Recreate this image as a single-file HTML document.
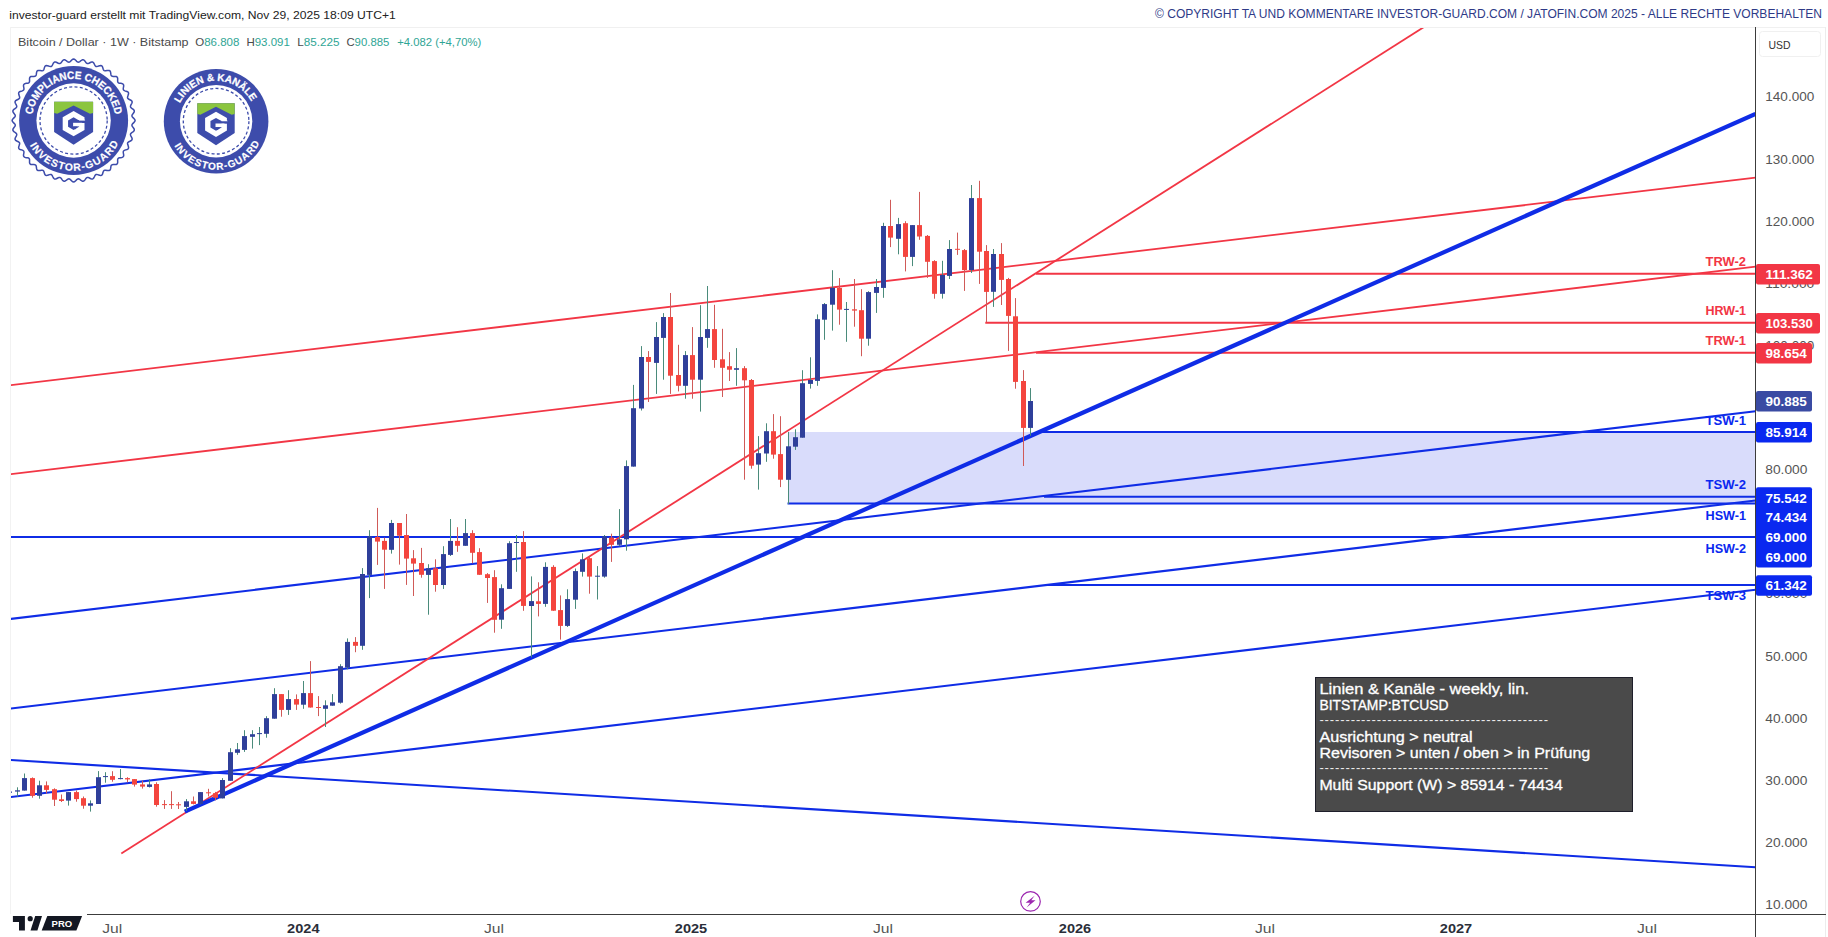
<!DOCTYPE html>
<html lang="de"><head><meta charset="utf-8"><title>Bitcoin / Dollar 1W</title>
<style>html,body{margin:0;padding:0;background:#fff;overflow:hidden}svg{display:block}text{white-space:pre}</style></head>
<body>
<svg width="1828" height="937" viewBox="0 0 1828 937" font-family='"Liberation Sans", sans-serif'>
<rect width="1828" height="937" fill="#fff"/>
<rect x="10" y="27" width="1816" height="1" fill="#f0f0f0"/>
<rect x="10" y="27" width="1" height="887" fill="#f2f2f2"/>
<rect x="1825" y="27" width="1" height="910" fill="#ececec"/>
<defs><clipPath id="cp"><rect x="11" y="28" width="1744.5" height="886"/></clipPath></defs>
<g clip-path="url(#cp)">
<rect x="788.5" y="432" width="967" height="71.5" fill="#d9dcfb"/>
<line x1="10.5" y1="618.9" x2="1755.5" y2="411.3" stroke="#0f2ce6" stroke-width="2.1"/>
<line x1="10.5" y1="708.5" x2="1755.5" y2="500.5" stroke="#0f2ce6" stroke-width="2.1"/>
<line x1="10.5" y1="797" x2="1755.5" y2="589.7" stroke="#0f2ce6" stroke-width="2.1"/>
<line x1="10.5" y1="760" x2="1755.5" y2="867.2" stroke="#0f2ce6" stroke-width="2.1"/>
<line x1="10.5" y1="537" x2="1755.5" y2="537" stroke="#0f2ce6" stroke-width="2"/>
<line x1="1042" y1="432.1" x2="1755.5" y2="432.1" stroke="#0f2ce6" stroke-width="2"/>
<line x1="1044" y1="496.8" x2="1755.5" y2="496.8" stroke="#0f2ce6" stroke-width="2"/>
<line x1="787.5" y1="503.6" x2="1755.5" y2="503.6" stroke="#0f2ce6" stroke-width="2"/>
<line x1="1046" y1="585" x2="1755.5" y2="585" stroke="#0f2ce6" stroke-width="2"/>
<line x1="10.5" y1="385.1" x2="1755.5" y2="177.7" stroke="#f23645" stroke-width="1.8"/>
<line x1="10.5" y1="474.2" x2="1755.5" y2="266.7" stroke="#f23645" stroke-width="1.8"/>
<line x1="121.3" y1="853.4" x2="1424" y2="27" stroke="#f23645" stroke-width="1.8"/>
<line x1="1036" y1="273.8" x2="1755.5" y2="273.8" stroke="#f23645" stroke-width="2"/>
<line x1="985.3" y1="322.8" x2="1755.5" y2="322.8" stroke="#f23645" stroke-width="2"/>
<line x1="1036" y1="352.75" x2="1755.5" y2="352.75" stroke="#f23645" stroke-width="2"/>
<line x1="184.8" y1="811.6" x2="1755.5" y2="113.8" stroke="#0f2ce6" stroke-width="4.2"/>
<rect x="9.0" y="791.5" width="1" height="1.3" fill="#4a8b7b"/>
<rect x="7.0" y="791.5" width="5" height="1.3" fill="#2f3f9a"/>
<rect x="17.0" y="787.3" width="1" height="9.2" fill="#4a8b7b"/>
<rect x="15.0" y="790.3" width="5" height="1.3" fill="#2f3f9a"/>
<rect x="24.0" y="773.5" width="1" height="17.1" fill="#4a8b7b"/>
<rect x="22.0" y="778.1" width="5" height="12.5" fill="#2f3f9a"/>
<rect x="32.0" y="777.4" width="1" height="20.3" fill="#d05a58"/>
<rect x="30.0" y="778.1" width="5" height="17.7" fill="#f4453e"/>
<rect x="39.0" y="780.7" width="1" height="18.0" fill="#4a8b7b"/>
<rect x="37.0" y="785.3" width="5" height="10.5" fill="#2f3f9a"/>
<rect x="46.0" y="781.4" width="1" height="12.2" fill="#d05a58"/>
<rect x="44.0" y="785.3" width="5" height="4.6" fill="#f4453e"/>
<rect x="54.0" y="788.3" width="1" height="17.7" fill="#d05a58"/>
<rect x="52.0" y="789.2" width="5" height="10.5" fill="#f4453e"/>
<rect x="61.0" y="794.5" width="1" height="7.5" fill="#d05a58"/>
<rect x="59.0" y="799.3" width="5" height="1.7" fill="#f4453e"/>
<rect x="68.0" y="792.1" width="1" height="13.5" fill="#4a8b7b"/>
<rect x="66.0" y="792.1" width="5" height="8.5" fill="#2f3f9a"/>
<rect x="76.0" y="790.5" width="1" height="11.2" fill="#d05a58"/>
<rect x="74.0" y="792.1" width="5" height="7.0" fill="#f4453e"/>
<rect x="83.0" y="796.5" width="1" height="12.2" fill="#d05a58"/>
<rect x="81.0" y="798.2" width="5" height="7.5" fill="#f4453e"/>
<rect x="90.0" y="800.4" width="1" height="11.2" fill="#4a8b7b"/>
<rect x="88.0" y="803.3" width="5" height="2.4" fill="#2f3f9a"/>
<rect x="98.0" y="771.1" width="1" height="32.8" fill="#4a8b7b"/>
<rect x="96.0" y="777.2" width="5" height="26.8" fill="#2f3f9a"/>
<rect x="105.0" y="772.2" width="1" height="10.5" fill="#4a8b7b"/>
<rect x="103.0" y="776.1" width="5" height="1.0" fill="#2f3f9a"/>
<rect x="112.0" y="771.2" width="1" height="10.5" fill="#d05a58"/>
<rect x="110.0" y="776.1" width="5" height="3.7" fill="#f4453e"/>
<rect x="120.0" y="769.1" width="1" height="10.2" fill="#4a8b7b"/>
<rect x="118.0" y="778.1" width="5" height="1.0" fill="#2f3f9a"/>
<rect x="127.0" y="777.2" width="1" height="5.1" fill="#d05a58"/>
<rect x="125.0" y="778.1" width="5" height="1.3" fill="#f4453e"/>
<rect x="134.0" y="779.1" width="1" height="7.5" fill="#d05a58"/>
<rect x="132.0" y="779.1" width="5" height="5.5" fill="#f4453e"/>
<rect x="142.0" y="780.7" width="1" height="7.9" fill="#d05a58"/>
<rect x="140.0" y="784.4" width="5" height="2.2" fill="#f4453e"/>
<rect x="149.0" y="779.4" width="1" height="8.1" fill="#4a8b7b"/>
<rect x="147.0" y="784.4" width="5" height="2.5" fill="#2f3f9a"/>
<rect x="156.0" y="782.3" width="1" height="24.4" fill="#d05a58"/>
<rect x="154.0" y="784.0" width="5" height="21.0" fill="#f4453e"/>
<rect x="164.0" y="800.1" width="1" height="8.8" fill="#d05a58"/>
<rect x="162.0" y="804.1" width="5" height="1.0" fill="#f4453e"/>
<rect x="171.0" y="791.2" width="1" height="17.7" fill="#d05a58"/>
<rect x="169.0" y="804.1" width="5" height="1.0" fill="#f4453e"/>
<rect x="178.0" y="802.0" width="1" height="7.0" fill="#d05a58"/>
<rect x="176.0" y="804.3" width="5" height="1.0" fill="#f4453e"/>
<rect x="186.0" y="799.1" width="1" height="11.8" fill="#4a8b7b"/>
<rect x="184.0" y="801.3" width="5" height="5.6" fill="#2f3f9a"/>
<rect x="193.0" y="796.5" width="1" height="7.9" fill="#d05a58"/>
<rect x="191.0" y="801.3" width="5" height="2.6" fill="#f4453e"/>
<rect x="200.0" y="792.1" width="1" height="12.2" fill="#4a8b7b"/>
<rect x="198.0" y="792.1" width="5" height="11.8" fill="#2f3f9a"/>
<rect x="208.0" y="788.8" width="1" height="7.6" fill="#d05a58"/>
<rect x="206.0" y="792.3" width="5" height="1.0" fill="#f4453e"/>
<rect x="215.0" y="791.9" width="1" height="8.5" fill="#d05a58"/>
<rect x="213.0" y="793.2" width="5" height="4.6" fill="#f4453e"/>
<rect x="222.0" y="778.1" width="1" height="20.3" fill="#4a8b7b"/>
<rect x="220.0" y="780.0" width="5" height="18.4" fill="#2f3f9a"/>
<rect x="230.0" y="748.2" width="1" height="32.6" fill="#4a8b7b"/>
<rect x="228.0" y="752.2" width="5" height="28.6" fill="#2f3f9a"/>
<rect x="237.0" y="743.0" width="1" height="11.8" fill="#4a8b7b"/>
<rect x="235.0" y="749.3" width="5" height="3.5" fill="#2f3f9a"/>
<rect x="244.0" y="730.2" width="1" height="21.7" fill="#4a8b7b"/>
<rect x="242.0" y="736.1" width="5" height="13.8" fill="#2f3f9a"/>
<rect x="252.0" y="730.2" width="1" height="18.4" fill="#4a8b7b"/>
<rect x="250.0" y="734.2" width="5" height="2.6" fill="#2f3f9a"/>
<rect x="259.0" y="727.0" width="1" height="18.1" fill="#4a8b7b"/>
<rect x="257.0" y="733.1" width="5" height="1.0" fill="#2f3f9a"/>
<rect x="266.0" y="716.2" width="1" height="21.5" fill="#4a8b7b"/>
<rect x="264.0" y="718.2" width="5" height="15.6" fill="#2f3f9a"/>
<rect x="274.0" y="688.2" width="1" height="30.5" fill="#4a8b7b"/>
<rect x="272.0" y="694.1" width="5" height="24.6" fill="#2f3f9a"/>
<rect x="281.0" y="694.1" width="1" height="22.6" fill="#d05a58"/>
<rect x="279.0" y="694.1" width="5" height="15.8" fill="#f4453e"/>
<rect x="288.0" y="690.2" width="1" height="24.7" fill="#4a8b7b"/>
<rect x="286.0" y="699.1" width="5" height="10.8" fill="#2f3f9a"/>
<rect x="296.0" y="694.4" width="1" height="15.5" fill="#d05a58"/>
<rect x="294.0" y="699.1" width="5" height="5.5" fill="#f4453e"/>
<rect x="303.0" y="681.0" width="1" height="27.8" fill="#4a8b7b"/>
<rect x="301.0" y="693.1" width="5" height="11.6" fill="#2f3f9a"/>
<rect x="310.0" y="661.1" width="1" height="46.5" fill="#d05a58"/>
<rect x="308.0" y="693.1" width="5" height="14.4" fill="#f4453e"/>
<rect x="318.0" y="696.1" width="1" height="20.0" fill="#d05a58"/>
<rect x="316.0" y="707.0" width="5" height="1.0" fill="#f4453e"/>
<rect x="325.0" y="700.3" width="1" height="26.7" fill="#4a8b7b"/>
<rect x="323.0" y="705.3" width="5" height="3.5" fill="#2f3f9a"/>
<rect x="332.0" y="694.1" width="1" height="11.6" fill="#4a8b7b"/>
<rect x="330.0" y="702.3" width="5" height="3.4" fill="#2f3f9a"/>
<rect x="340.0" y="664.2" width="1" height="39.4" fill="#4a8b7b"/>
<rect x="338.0" y="666.2" width="5" height="36.5" fill="#2f3f9a"/>
<rect x="347.0" y="638.4" width="1" height="30.9" fill="#4a8b7b"/>
<rect x="345.0" y="641.9" width="5" height="25.7" fill="#2f3f9a"/>
<rect x="355.0" y="637.1" width="1" height="15.1" fill="#d05a58"/>
<rect x="353.0" y="641.9" width="5" height="3.9" fill="#f4453e"/>
<rect x="362.0" y="568.1" width="1" height="81.7" fill="#4a8b7b"/>
<rect x="360.0" y="574.0" width="5" height="71.8" fill="#2f3f9a"/>
<rect x="369.0" y="530.2" width="1" height="67.9" fill="#4a8b7b"/>
<rect x="367.0" y="536.4" width="5" height="38.5" fill="#2f3f9a"/>
<rect x="377.0" y="507.9" width="1" height="57.0" fill="#d05a58"/>
<rect x="375.0" y="537.0" width="5" height="4.6" fill="#f4453e"/>
<rect x="384.0" y="537.7" width="1" height="51.2" fill="#d05a58"/>
<rect x="382.0" y="540.9" width="5" height="8.8" fill="#f4453e"/>
<rect x="391.0" y="519.9" width="1" height="33.7" fill="#4a8b7b"/>
<rect x="389.0" y="523.0" width="5" height="26.8" fill="#2f3f9a"/>
<rect x="399.0" y="523.0" width="1" height="41.6" fill="#d05a58"/>
<rect x="397.0" y="523.0" width="5" height="12.7" fill="#f4453e"/>
<rect x="406.0" y="514.0" width="1" height="70.9" fill="#d05a58"/>
<rect x="404.0" y="535.0" width="5" height="23.6" fill="#f4453e"/>
<rect x="413.0" y="550.1" width="1" height="45.9" fill="#d05a58"/>
<rect x="411.0" y="558.3" width="5" height="5.3" fill="#f4453e"/>
<rect x="421.0" y="547.9" width="1" height="29.8" fill="#d05a58"/>
<rect x="419.0" y="563.0" width="5" height="11.8" fill="#f4453e"/>
<rect x="428.0" y="564.2" width="1" height="50.5" fill="#4a8b7b"/>
<rect x="426.0" y="568.3" width="5" height="6.6" fill="#2f3f9a"/>
<rect x="435.0" y="559.3" width="1" height="32.4" fill="#d05a58"/>
<rect x="433.0" y="568.3" width="5" height="16.7" fill="#f4453e"/>
<rect x="443.0" y="546.2" width="1" height="42.7" fill="#4a8b7b"/>
<rect x="441.0" y="554.1" width="5" height="30.9" fill="#2f3f9a"/>
<rect x="450.0" y="519.0" width="1" height="37.0" fill="#4a8b7b"/>
<rect x="448.0" y="540.9" width="5" height="14.0" fill="#2f3f9a"/>
<rect x="457.0" y="527.2" width="1" height="24.6" fill="#d05a58"/>
<rect x="455.0" y="540.9" width="5" height="4.9" fill="#f4453e"/>
<rect x="465.0" y="519.0" width="1" height="26.8" fill="#4a8b7b"/>
<rect x="463.0" y="533.1" width="5" height="12.7" fill="#2f3f9a"/>
<rect x="472.0" y="530.2" width="1" height="33.1" fill="#d05a58"/>
<rect x="470.0" y="533.1" width="5" height="19.7" fill="#f4453e"/>
<rect x="479.0" y="548.2" width="1" height="26.7" fill="#d05a58"/>
<rect x="477.0" y="552.1" width="5" height="22.7" fill="#f4453e"/>
<rect x="487.0" y="573.1" width="1" height="29.8" fill="#d05a58"/>
<rect x="485.0" y="574.2" width="5" height="3.8" fill="#f4453e"/>
<rect x="494.0" y="570.2" width="1" height="62.5" fill="#d05a58"/>
<rect x="492.0" y="577.1" width="5" height="42.7" fill="#f4453e"/>
<rect x="501.0" y="584.3" width="1" height="44.5" fill="#4a8b7b"/>
<rect x="499.0" y="588.2" width="5" height="31.5" fill="#2f3f9a"/>
<rect x="509.0" y="541.2" width="1" height="47.7" fill="#4a8b7b"/>
<rect x="507.0" y="543.2" width="5" height="45.7" fill="#2f3f9a"/>
<rect x="516.0" y="535.0" width="1" height="36.8" fill="#4a8b7b"/>
<rect x="514.0" y="542.0" width="5" height="1.0" fill="#2f3f9a"/>
<rect x="523.0" y="531.1" width="1" height="79.7" fill="#d05a58"/>
<rect x="521.0" y="542.0" width="5" height="63.9" fill="#f4453e"/>
<rect x="531.0" y="576.4" width="1" height="81.0" fill="#4a8b7b"/>
<rect x="529.0" y="601.1" width="5" height="4.9" fill="#2f3f9a"/>
<rect x="538.0" y="582.3" width="1" height="34.1" fill="#d05a58"/>
<rect x="536.0" y="601.3" width="5" height="2.6" fill="#f4453e"/>
<rect x="545.0" y="562.3" width="1" height="44.5" fill="#4a8b7b"/>
<rect x="543.0" y="566.9" width="5" height="37.0" fill="#2f3f9a"/>
<rect x="553.0" y="565.2" width="1" height="45.6" fill="#d05a58"/>
<rect x="551.0" y="566.9" width="5" height="43.8" fill="#f4453e"/>
<rect x="560.0" y="595.4" width="1" height="44.2" fill="#d05a58"/>
<rect x="558.0" y="610.1" width="5" height="15.8" fill="#f4453e"/>
<rect x="567.0" y="589.3" width="1" height="37.7" fill="#4a8b7b"/>
<rect x="565.0" y="599.1" width="5" height="26.8" fill="#2f3f9a"/>
<rect x="575.0" y="568.5" width="1" height="40.4" fill="#4a8b7b"/>
<rect x="573.0" y="571.1" width="5" height="28.6" fill="#2f3f9a"/>
<rect x="582.0" y="553.4" width="1" height="23.2" fill="#4a8b7b"/>
<rect x="580.0" y="559.3" width="5" height="12.5" fill="#2f3f9a"/>
<rect x="589.0" y="556.6" width="1" height="37.1" fill="#d05a58"/>
<rect x="587.0" y="558.2" width="5" height="18.4" fill="#f4453e"/>
<rect x="597.0" y="566.1" width="1" height="33.4" fill="#4a8b7b"/>
<rect x="595.0" y="575.7" width="5" height="1.0" fill="#2f3f9a"/>
<rect x="604.0" y="535.0" width="1" height="42.7" fill="#4a8b7b"/>
<rect x="602.0" y="536.3" width="5" height="40.3" fill="#2f3f9a"/>
<rect x="611.0" y="533.7" width="1" height="28.2" fill="#d05a58"/>
<rect x="609.0" y="537.6" width="5" height="7.2" fill="#f4453e"/>
<rect x="619.0" y="509.1" width="1" height="37.0" fill="#4a8b7b"/>
<rect x="617.0" y="539.3" width="5" height="5.5" fill="#2f3f9a"/>
<rect x="626.0" y="460.4" width="1" height="90.3" fill="#4a8b7b"/>
<rect x="624.0" y="466.1" width="5" height="73.2" fill="#2f3f9a"/>
<rect x="633.0" y="384.9" width="1" height="81.7" fill="#4a8b7b"/>
<rect x="631.0" y="408.2" width="5" height="58.4" fill="#2f3f9a"/>
<rect x="641.0" y="346.1" width="1" height="64.4" fill="#4a8b7b"/>
<rect x="639.0" y="357.0" width="5" height="51.5" fill="#2f3f9a"/>
<rect x="648.0" y="351.1" width="1" height="50.9" fill="#d05a58"/>
<rect x="646.0" y="357.0" width="5" height="4.9" fill="#f4453e"/>
<rect x="656.0" y="322.1" width="1" height="71.8" fill="#4a8b7b"/>
<rect x="654.0" y="337.0" width="5" height="25.9" fill="#2f3f9a"/>
<rect x="663.0" y="313.1" width="1" height="66.6" fill="#4a8b7b"/>
<rect x="661.0" y="317.0" width="5" height="20.9" fill="#2f3f9a"/>
<rect x="670.0" y="293.0" width="1" height="100.9" fill="#d05a58"/>
<rect x="668.0" y="317.0" width="5" height="58.7" fill="#f4453e"/>
<rect x="678.0" y="344.8" width="1" height="46.6" fill="#d05a58"/>
<rect x="676.0" y="375.0" width="5" height="10.8" fill="#f4453e"/>
<rect x="685.0" y="351.1" width="1" height="47.6" fill="#4a8b7b"/>
<rect x="683.0" y="355.1" width="5" height="30.7" fill="#2f3f9a"/>
<rect x="692.0" y="327.1" width="1" height="71.6" fill="#d05a58"/>
<rect x="690.0" y="355.1" width="5" height="24.6" fill="#f4453e"/>
<rect x="700.0" y="305.2" width="1" height="106.4" fill="#4a8b7b"/>
<rect x="698.0" y="337.0" width="5" height="42.7" fill="#2f3f9a"/>
<rect x="707.0" y="286.0" width="1" height="61.8" fill="#4a8b7b"/>
<rect x="705.0" y="329.1" width="5" height="8.8" fill="#2f3f9a"/>
<rect x="714.0" y="304.8" width="1" height="63.0" fill="#d05a58"/>
<rect x="712.0" y="329.1" width="5" height="30.9" fill="#f4453e"/>
<rect x="722.0" y="328.8" width="1" height="68.2" fill="#d05a58"/>
<rect x="720.0" y="359.3" width="5" height="8.5" fill="#f4453e"/>
<rect x="729.0" y="352.1" width="1" height="28.9" fill="#d05a58"/>
<rect x="727.0" y="366.2" width="5" height="3.5" fill="#f4453e"/>
<rect x="736.0" y="348.1" width="1" height="37.7" fill="#4a8b7b"/>
<rect x="734.0" y="368.2" width="5" height="1.6" fill="#2f3f9a"/>
<rect x="744.0" y="366.1" width="1" height="113.6" fill="#d05a58"/>
<rect x="742.0" y="368.2" width="5" height="12.1" fill="#f4453e"/>
<rect x="751.0" y="379.0" width="1" height="89.7" fill="#d05a58"/>
<rect x="749.0" y="380.0" width="5" height="85.7" fill="#f4453e"/>
<rect x="758.0" y="436.1" width="1" height="53.5" fill="#4a8b7b"/>
<rect x="756.0" y="453.2" width="5" height="11.4" fill="#2f3f9a"/>
<rect x="766.0" y="423.3" width="1" height="38.5" fill="#4a8b7b"/>
<rect x="764.0" y="431.2" width="5" height="22.3" fill="#2f3f9a"/>
<rect x="773.0" y="414.1" width="1" height="44.6" fill="#d05a58"/>
<rect x="771.0" y="431.2" width="5" height="23.4" fill="#f4453e"/>
<rect x="780.0" y="416.2" width="1" height="70.9" fill="#d05a58"/>
<rect x="778.0" y="454.1" width="5" height="25.6" fill="#f4453e"/>
<rect x="788.0" y="431.9" width="1" height="72.2" fill="#4a8b7b"/>
<rect x="786.0" y="446.3" width="5" height="33.5" fill="#2f3f9a"/>
<rect x="795.0" y="429.3" width="1" height="20.6" fill="#4a8b7b"/>
<rect x="793.0" y="437.2" width="5" height="9.5" fill="#2f3f9a"/>
<rect x="802.0" y="370.2" width="1" height="67.5" fill="#4a8b7b"/>
<rect x="800.0" y="383.2" width="5" height="54.5" fill="#2f3f9a"/>
<rect x="810.0" y="357.3" width="1" height="31.3" fill="#4a8b7b"/>
<rect x="808.0" y="380.0" width="5" height="3.9" fill="#2f3f9a"/>
<rect x="817.0" y="314.4" width="1" height="71.4" fill="#4a8b7b"/>
<rect x="815.0" y="319.2" width="5" height="61.7" fill="#2f3f9a"/>
<rect x="824.0" y="303.0" width="1" height="36.8" fill="#4a8b7b"/>
<rect x="822.0" y="304.1" width="5" height="15.6" fill="#2f3f9a"/>
<rect x="832.0" y="270.2" width="1" height="60.4" fill="#4a8b7b"/>
<rect x="830.0" y="287.9" width="5" height="16.8" fill="#2f3f9a"/>
<rect x="839.0" y="278.1" width="1" height="46.6" fill="#d05a58"/>
<rect x="837.0" y="287.9" width="5" height="21.7" fill="#f4453e"/>
<rect x="846.0" y="302.0" width="1" height="39.8" fill="#4a8b7b"/>
<rect x="844.0" y="308.9" width="5" height="1.0" fill="#2f3f9a"/>
<rect x="854.0" y="279.0" width="1" height="47.7" fill="#d05a58"/>
<rect x="852.0" y="309.3" width="5" height="1.3" fill="#f4453e"/>
<rect x="861.0" y="289.2" width="1" height="67.0" fill="#d05a58"/>
<rect x="859.0" y="310.2" width="5" height="28.5" fill="#f4453e"/>
<rect x="868.0" y="291.2" width="1" height="54.5" fill="#4a8b7b"/>
<rect x="866.0" y="292.1" width="5" height="46.6" fill="#2f3f9a"/>
<rect x="876.0" y="279.0" width="1" height="33.9" fill="#4a8b7b"/>
<rect x="874.0" y="287.0" width="5" height="5.9" fill="#2f3f9a"/>
<rect x="883.0" y="222.8" width="1" height="75.0" fill="#4a8b7b"/>
<rect x="881.0" y="226.0" width="5" height="61.9" fill="#2f3f9a"/>
<rect x="890.0" y="199.8" width="1" height="47.3" fill="#d05a58"/>
<rect x="888.0" y="226.0" width="5" height="11.6" fill="#f4453e"/>
<rect x="898.0" y="217.9" width="1" height="36.4" fill="#4a8b7b"/>
<rect x="896.0" y="224.1" width="5" height="14.7" fill="#2f3f9a"/>
<rect x="905.0" y="221.2" width="1" height="50.2" fill="#d05a58"/>
<rect x="903.0" y="223.2" width="5" height="33.7" fill="#f4453e"/>
<rect x="912.0" y="225.1" width="1" height="41.0" fill="#4a8b7b"/>
<rect x="910.0" y="225.1" width="5" height="31.8" fill="#2f3f9a"/>
<rect x="919.0" y="191.9" width="1" height="47.9" fill="#d05a58"/>
<rect x="917.0" y="225.1" width="5" height="11.4" fill="#f4453e"/>
<rect x="927.0" y="235.0" width="1" height="42.9" fill="#d05a58"/>
<rect x="925.0" y="235.9" width="5" height="25.9" fill="#f4453e"/>
<rect x="934.0" y="260.2" width="1" height="38.5" fill="#d05a58"/>
<rect x="932.0" y="261.1" width="5" height="32.7" fill="#f4453e"/>
<rect x="942.0" y="260.8" width="1" height="37.8" fill="#4a8b7b"/>
<rect x="940.0" y="275.0" width="5" height="18.8" fill="#2f3f9a"/>
<rect x="949.0" y="240.1" width="1" height="38.9" fill="#4a8b7b"/>
<rect x="947.0" y="249.0" width="5" height="26.9" fill="#2f3f9a"/>
<rect x="957.0" y="232.6" width="1" height="22.3" fill="#d05a58"/>
<rect x="955.0" y="248.8" width="5" height="1.0" fill="#f4453e"/>
<rect x="964.0" y="249.0" width="1" height="41.9" fill="#d05a58"/>
<rect x="962.0" y="250.1" width="5" height="20.0" fill="#f4453e"/>
<rect x="971.0" y="185.0" width="1" height="88.0" fill="#4a8b7b"/>
<rect x="969.0" y="198.1" width="5" height="71.9" fill="#2f3f9a"/>
<rect x="979.0" y="180.8" width="1" height="103.1" fill="#d05a58"/>
<rect x="977.0" y="198.1" width="5" height="53.6" fill="#f4453e"/>
<rect x="986.0" y="245.1" width="1" height="77.0" fill="#d05a58"/>
<rect x="984.0" y="251.0" width="5" height="40.9" fill="#f4453e"/>
<rect x="993.0" y="249.0" width="1" height="57.9" fill="#4a8b7b"/>
<rect x="991.0" y="254.0" width="5" height="37.8" fill="#2f3f9a"/>
<rect x="1001.0" y="243.1" width="1" height="61.9" fill="#d05a58"/>
<rect x="999.0" y="254.0" width="5" height="25.9" fill="#f4453e"/>
<rect x="1008.0" y="277.9" width="1" height="73.0" fill="#d05a58"/>
<rect x="1006.0" y="279.0" width="5" height="36.9" fill="#f4453e"/>
<rect x="1015.0" y="298.1" width="1" height="90.6" fill="#d05a58"/>
<rect x="1013.0" y="316.3" width="5" height="65.6" fill="#f4453e"/>
<rect x="1023.0" y="370.1" width="1" height="95.9" fill="#d05a58"/>
<rect x="1021.0" y="381.0" width="5" height="46.9" fill="#f4453e"/>
<rect x="1030.0" y="388.1" width="1" height="47.7" fill="#4a8b7b"/>
<rect x="1028.0" y="401.0" width="5" height="26.9" fill="#2f3f9a"/>
</g>
<text x="1746" y="266.4" font-size="12.5" fill="#f23645" font-weight="bold" text-anchor="end" textLength="40.5" lengthAdjust="spacingAndGlyphs">TRW-2</text>
<text x="1746" y="314.7" font-size="12.5" fill="#f23645" font-weight="bold" text-anchor="end" textLength="40.5" lengthAdjust="spacingAndGlyphs">HRW-1</text>
<text x="1746" y="345.4" font-size="12.5" fill="#f23645" font-weight="bold" text-anchor="end" textLength="40.5" lengthAdjust="spacingAndGlyphs">TRW-1</text>
<text x="1746" y="424.7" font-size="12.5" fill="#0a28f0" font-weight="bold" text-anchor="end" textLength="40.5" lengthAdjust="spacingAndGlyphs">TSW-1</text>
<text x="1746" y="488.6" font-size="12.5" fill="#0a28f0" font-weight="bold" text-anchor="end" textLength="40.5" lengthAdjust="spacingAndGlyphs">TSW-2</text>
<text x="1746" y="519.8" font-size="12.5" fill="#0a28f0" font-weight="bold" text-anchor="end" textLength="40.5" lengthAdjust="spacingAndGlyphs">HSW-1</text>
<text x="1746" y="552.5" font-size="12.5" fill="#0a28f0" font-weight="bold" text-anchor="end" textLength="40.5" lengthAdjust="spacingAndGlyphs">HSW-2</text>
<text x="1746" y="600.1" font-size="12.5" fill="#0a28f0" font-weight="bold" text-anchor="end" textLength="40.5" lengthAdjust="spacingAndGlyphs">TSW-3</text>
<rect x="1755" y="27" width="1" height="910" fill="#3c3c3c"/>
<rect x="87" y="914" width="1739" height="1" fill="#3c3c3c"/>
<text x="1765.3" y="909.0" font-size="12" fill="#555" font-weight="normal" text-anchor="start" textLength="42" lengthAdjust="spacingAndGlyphs">10.000</text>
<text x="1765.3" y="846.88" font-size="12" fill="#555" font-weight="normal" text-anchor="start" textLength="42" lengthAdjust="spacingAndGlyphs">20.000</text>
<text x="1765.3" y="784.76" font-size="12" fill="#555" font-weight="normal" text-anchor="start" textLength="42" lengthAdjust="spacingAndGlyphs">30.000</text>
<text x="1765.3" y="722.64" font-size="12" fill="#555" font-weight="normal" text-anchor="start" textLength="42" lengthAdjust="spacingAndGlyphs">40.000</text>
<text x="1765.3" y="660.52" font-size="12" fill="#555" font-weight="normal" text-anchor="start" textLength="42" lengthAdjust="spacingAndGlyphs">50.000</text>
<text x="1765.3" y="598.4000000000001" font-size="12" fill="#555" font-weight="normal" text-anchor="start" textLength="42" lengthAdjust="spacingAndGlyphs">60.000</text>
<text x="1765.3" y="474.15999999999997" font-size="12" fill="#555" font-weight="normal" text-anchor="start" textLength="42" lengthAdjust="spacingAndGlyphs">80.000</text>
<text x="1765.3" y="349.92" font-size="12" fill="#555" font-weight="normal" text-anchor="start" textLength="49" lengthAdjust="spacingAndGlyphs">100.000</text>
<text x="1765.3" y="287.8" font-size="12" fill="#555" font-weight="normal" text-anchor="start" textLength="49" lengthAdjust="spacingAndGlyphs">110.000</text>
<text x="1765.3" y="225.68" font-size="12" fill="#555" font-weight="normal" text-anchor="start" textLength="49" lengthAdjust="spacingAndGlyphs">120.000</text>
<text x="1765.3" y="163.56" font-size="12" fill="#555" font-weight="normal" text-anchor="start" textLength="49" lengthAdjust="spacingAndGlyphs">130.000</text>
<text x="1765.3" y="101.44000000000001" font-size="12" fill="#555" font-weight="normal" text-anchor="start" textLength="49" lengthAdjust="spacingAndGlyphs">140.000</text>
<rect x="1756" y="263.9" width="64" height="20.5" rx="2" fill="#f23645"/>
<text x="1765.4" y="278.59999999999997" font-size="12.3" fill="#fff" font-weight="bold" text-anchor="start" textLength="47.5" lengthAdjust="spacingAndGlyphs">111.362</text>
<rect x="1756" y="312.9" width="64" height="20.5" rx="2" fill="#f23645"/>
<text x="1765.4" y="327.59999999999997" font-size="12.3" fill="#fff" font-weight="bold" text-anchor="start" textLength="47.5" lengthAdjust="spacingAndGlyphs">103.530</text>
<rect x="1756" y="343.1" width="56" height="20.5" rx="2" fill="#f23645"/>
<text x="1765.4" y="357.79999999999995" font-size="12.3" fill="#fff" font-weight="bold" text-anchor="start" textLength="41.3" lengthAdjust="spacingAndGlyphs">98.654</text>
<rect x="1756" y="391.1" width="56" height="20.5" rx="2" fill="#3a4ba3"/>
<text x="1765.4" y="405.7" font-size="12.3" fill="#fff" font-weight="bold" text-anchor="start" textLength="41.3" lengthAdjust="spacingAndGlyphs">90.885</text>
<rect x="1756" y="422.1" width="56" height="20.5" rx="2" fill="#0a28f0"/>
<text x="1765.4" y="436.7" font-size="12.3" fill="#fff" font-weight="bold" text-anchor="start" textLength="41.3" lengthAdjust="spacingAndGlyphs">85.914</text>
<rect x="1756" y="487.2" width="56" height="80.2" rx="2" fill="#0a28f0"/>
<text x="1765.4" y="502.79999999999995" font-size="12.3" fill="#fff" font-weight="bold" text-anchor="start" textLength="41.3" lengthAdjust="spacingAndGlyphs">75.542</text>
<text x="1765.4" y="522.4" font-size="12.3" fill="#fff" font-weight="bold" text-anchor="start" textLength="41.3" lengthAdjust="spacingAndGlyphs">74.434</text>
<text x="1765.4" y="542.4" font-size="12.3" fill="#fff" font-weight="bold" text-anchor="start" textLength="41.3" lengthAdjust="spacingAndGlyphs">69.000</text>
<text x="1765.4" y="562.4" font-size="12.3" fill="#fff" font-weight="bold" text-anchor="start" textLength="41.3" lengthAdjust="spacingAndGlyphs">69.000</text>
<rect x="1756" y="575.2" width="56" height="20.5" rx="2" fill="#0a28f0"/>
<text x="1765.4" y="589.9" font-size="12.3" fill="#fff" font-weight="bold" text-anchor="start" textLength="41.3" lengthAdjust="spacingAndGlyphs">61.342</text>
<rect x="1759.5" y="31.5" width="61" height="25" rx="3" fill="#fff" stroke="#f0f0f0"/>
<text x="1768.5" y="48.8" font-size="11.5" fill="#333" font-weight="normal" text-anchor="start" textLength="22" lengthAdjust="spacingAndGlyphs">USD</text>
<text x="112.3" y="933.4" font-size="12" fill="#555" font-weight="normal" text-anchor="middle" textLength="20" lengthAdjust="spacingAndGlyphs">Jul</text>
<text x="303.3" y="933.4" font-size="12" fill="#2a2e39" font-weight="bold" text-anchor="middle" textLength="32.4" lengthAdjust="spacingAndGlyphs">2024</text>
<text x="494" y="933.4" font-size="12" fill="#555" font-weight="normal" text-anchor="middle" textLength="20" lengthAdjust="spacingAndGlyphs">Jul</text>
<text x="691" y="933.4" font-size="12" fill="#2a2e39" font-weight="bold" text-anchor="middle" textLength="32.4" lengthAdjust="spacingAndGlyphs">2025</text>
<text x="883" y="933.4" font-size="12" fill="#555" font-weight="normal" text-anchor="middle" textLength="20" lengthAdjust="spacingAndGlyphs">Jul</text>
<text x="1075" y="933.4" font-size="12" fill="#2a2e39" font-weight="bold" text-anchor="middle" textLength="32.4" lengthAdjust="spacingAndGlyphs">2026</text>
<text x="1265" y="933.4" font-size="12" fill="#555" font-weight="normal" text-anchor="middle" textLength="20" lengthAdjust="spacingAndGlyphs">Jul</text>
<text x="1456" y="933.4" font-size="12" fill="#2a2e39" font-weight="bold" text-anchor="middle" textLength="32.4" lengthAdjust="spacingAndGlyphs">2027</text>
<text x="1647" y="933.4" font-size="12" fill="#555" font-weight="normal" text-anchor="middle" textLength="20" lengthAdjust="spacingAndGlyphs">Jul</text>
<text x="9.3" y="18.5" font-size="11.5" fill="#222" font-weight="normal" text-anchor="start" textLength="386.5" lengthAdjust="spacingAndGlyphs">investor-guard erstellt mit TradingView.com, Nov 29, 2025 18:09 UTC+1</text>
<text x="1155" y="18" font-size="12.5" fill="#2e3a87" font-weight="normal" text-anchor="start" textLength="667" lengthAdjust="spacingAndGlyphs">© COPYRIGHT TA UND KOMMENTARE INVESTOR-GUARD.COM / JATOFIN.COM 2025 - ALLE RECHTE VORBEHALTEN</text>
<text x="18" y="45.5" font-size="11.5" fill="#4a4a4a" font-weight="normal" text-anchor="start" textLength="170.6" lengthAdjust="spacingAndGlyphs">Bitcoin / Dollar · 1W · Bitstamp</text>
<text x="195.2" y="45.5" font-size="11.5" textLength="44.2" lengthAdjust="spacingAndGlyphs"><tspan fill="#4a4a4a">O</tspan><tspan fill="#2fa595">86.808</tspan></text>
<text x="246.4" y="45.5" font-size="11.5" textLength="43.4" lengthAdjust="spacingAndGlyphs"><tspan fill="#4a4a4a">H</tspan><tspan fill="#2fa595">93.091</tspan></text>
<text x="297.2" y="45.5" font-size="11.5" textLength="42.4" lengthAdjust="spacingAndGlyphs"><tspan fill="#4a4a4a">L</tspan><tspan fill="#2fa595">85.225</tspan></text>
<text x="346.4" y="45.5" font-size="11.5" textLength="43" lengthAdjust="spacingAndGlyphs"><tspan fill="#4a4a4a">C</tspan><tspan fill="#2fa595">90.885</tspan></text>
<text x="397.2" y="45.5" font-size="11.5" fill="#2fa595" font-weight="normal" text-anchor="start" textLength="84.2" lengthAdjust="spacingAndGlyphs">+4.082 (+4,70%)</text>
<rect x="1315.5" y="677.5" width="317" height="134" fill="#4a4a4a" stroke="#1e1e2a" stroke-width="1"/>
<text x="1319.4" y="693.9" font-size="14" fill="#fff" font-weight="normal" text-anchor="start" textLength="209.6" lengthAdjust="spacingAndGlyphs" stroke="#fff" stroke-width="0.3">Linien &amp; Kanäle - weekly, lin.</text>
<text x="1319.4" y="709.9" font-size="14" fill="#fff" font-weight="normal" text-anchor="start" textLength="129.1" lengthAdjust="spacingAndGlyphs" stroke="#fff" stroke-width="0.3">BITSTAMP:BTCUSD</text>
<text x="1319.4" y="724.0" font-size="13" fill="#ececec" textLength="228.6" lengthAdjust="spacing">--------------------------------------------</text>
<text x="1319.4" y="741.6" font-size="14" fill="#fff" font-weight="normal" text-anchor="start" textLength="153.2" lengthAdjust="spacingAndGlyphs" stroke="#fff" stroke-width="0.3">Ausrichtung &gt; neutral</text>
<text x="1319.4" y="757.8" font-size="14" fill="#fff" font-weight="normal" text-anchor="start" textLength="270.9" lengthAdjust="spacingAndGlyphs" stroke="#fff" stroke-width="0.3">Revisoren &gt; unten / oben &gt; in Prüfung</text>
<text x="1319.4" y="772.1999999999999" font-size="13" fill="#ececec" textLength="228.6" lengthAdjust="spacing">--------------------------------------------</text>
<text x="1319.4" y="789.5" font-size="14" fill="#fff" font-weight="normal" text-anchor="start" textLength="243.3" lengthAdjust="spacingAndGlyphs" stroke="#fff" stroke-width="0.3">Multi Support (W) &gt; 85914 - 74434</text>
<circle cx="1030.5" cy="901.4" r="9.8" fill="#fff" stroke="#9c27b0" stroke-width="1.2"/>
<path d="M1034.6 895.8 L1025.6 902.8 L1030.1 902.8 L1026.6 907.4 L1035.5 900.3 L1031.3 900.3 Z" fill="#9c27b0"/>
<path d="M12.9 916.1H24.9V930.5H19V922H12.9Z" fill="#131722"/>
<circle cx="30.2" cy="918.7" r="2.6" fill="#131722"/>
<path d="M35.2 916.1H42L37.4 930.5H30.5Z" fill="#131722"/>
<path d="M47.3 916.1H82.1L76.4 930.5H41.7Z" fill="#131722"/>
<text x="51.6" y="926.9" font-size="9.5" fill="#fff" font-weight="bold" text-anchor="start" textLength="20.6" lengthAdjust="spacingAndGlyphs">PRO</text>
<polygon points="135.10,120.50 134.89,121.30 134.33,122.09 133.55,122.86 132.77,123.60 132.18,124.34 131.92,125.09 132.05,125.87 132.53,126.69 133.18,127.55 133.83,128.43 134.26,129.30 134.34,130.12 134.01,130.88 133.33,131.57 132.45,132.21 131.56,132.82 130.85,133.46 130.48,134.16 130.49,134.95 130.83,135.84 131.35,136.79 131.85,137.75 132.14,138.68 132.09,139.50 131.65,140.20 130.87,140.78 129.89,141.27 128.91,141.73 128.12,142.25 127.65,142.89 127.53,143.67 127.73,144.60 128.09,145.62 128.43,146.65 128.58,147.61 128.40,148.42 127.85,149.04 126.99,149.49 125.95,149.82 124.91,150.12 124.05,150.51 123.48,151.07 123.25,151.82 123.29,152.77 123.49,153.83 123.67,154.91 123.66,155.88 123.35,156.65 122.72,157.18 121.80,157.48 120.72,157.65 119.65,157.79 118.73,158.04 118.08,158.49 117.73,159.20 117.63,160.15 117.66,161.23 117.67,162.32 117.51,163.27 117.09,163.99 116.37,164.41 115.42,164.57 114.33,164.56 113.25,164.53 112.30,164.63 111.59,164.98 111.14,165.63 110.89,166.55 110.75,167.62 110.58,168.70 110.28,169.62 109.75,170.25 108.98,170.56 108.01,170.57 106.93,170.39 105.87,170.19 104.92,170.15 104.17,170.38 103.61,170.95 103.22,171.81 102.92,172.85 102.59,173.89 102.14,174.75 101.52,175.30 100.71,175.48 99.75,175.33 98.72,174.99 97.70,174.63 96.77,174.43 95.99,174.55 95.35,175.02 94.83,175.81 94.37,176.79 93.88,177.77 93.30,178.55 92.60,178.99 91.78,179.04 90.85,178.75 89.89,178.25 88.94,177.73 88.05,177.39 87.26,177.38 86.56,177.75 85.92,178.46 85.31,179.35 84.67,180.23 83.98,180.91 83.22,181.24 82.40,181.16 81.53,180.73 80.65,180.08 79.79,179.43 78.97,178.95 78.19,178.82 77.44,179.08 76.70,179.67 75.96,180.45 75.19,181.23 74.40,181.79 73.60,182.00 72.80,181.79 72.01,181.23 71.24,180.45 70.50,179.67 69.76,179.08 69.01,178.82 68.23,178.95 67.41,179.43 66.55,180.08 65.67,180.73 64.80,181.16 63.98,181.24 63.22,180.91 62.53,180.23 61.89,179.35 61.28,178.46 60.64,177.75 59.94,177.38 59.15,177.39 58.26,177.73 57.31,178.25 56.35,178.75 55.42,179.04 54.60,178.99 53.90,178.55 53.32,177.77 52.83,176.79 52.37,175.81 51.85,175.02 51.21,174.55 50.43,174.43 49.50,174.63 48.48,174.99 47.45,175.33 46.49,175.48 45.68,175.30 45.06,174.75 44.61,173.89 44.28,172.85 43.98,171.81 43.59,170.95 43.03,170.38 42.28,170.15 41.33,170.19 40.27,170.39 39.19,170.57 38.22,170.56 37.45,170.25 36.92,169.62 36.62,168.70 36.45,167.62 36.31,166.55 36.06,165.63 35.61,164.98 34.90,164.63 33.95,164.53 32.87,164.56 31.78,164.57 30.83,164.41 30.11,163.99 29.69,163.27 29.53,162.32 29.54,161.23 29.57,160.15 29.47,159.20 29.12,158.49 28.47,158.04 27.55,157.79 26.48,157.65 25.40,157.48 24.48,157.18 23.85,156.65 23.54,155.88 23.53,154.91 23.71,153.83 23.91,152.77 23.95,151.82 23.72,151.07 23.15,150.51 22.29,150.12 21.25,149.82 20.21,149.49 19.35,149.04 18.80,148.42 18.62,147.61 18.77,146.65 19.11,145.62 19.47,144.60 19.67,143.67 19.55,142.89 19.08,142.25 18.29,141.73 17.31,141.27 16.33,140.78 15.55,140.20 15.11,139.50 15.06,138.68 15.35,137.75 15.85,136.79 16.37,135.84 16.71,134.95 16.72,134.16 16.35,133.46 15.64,132.82 14.75,132.21 13.87,131.57 13.19,130.88 12.86,130.12 12.94,129.30 13.37,128.43 14.02,127.55 14.67,126.69 15.15,125.87 15.28,125.09 15.02,124.34 14.43,123.60 13.65,122.86 12.87,122.09 12.31,121.30 12.10,120.50 12.31,119.70 12.87,118.91 13.65,118.14 14.43,117.40 15.02,116.66 15.28,115.91 15.15,115.13 14.67,114.31 14.02,113.45 13.37,112.57 12.94,111.70 12.86,110.88 13.19,110.12 13.87,109.43 14.75,108.79 15.64,108.18 16.35,107.54 16.72,106.84 16.71,106.05 16.37,105.16 15.85,104.21 15.35,103.25 15.06,102.32 15.11,101.50 15.55,100.80 16.33,100.22 17.31,99.73 18.29,99.27 19.08,98.75 19.55,98.11 19.67,97.33 19.47,96.40 19.11,95.38 18.77,94.35 18.62,93.39 18.80,92.58 19.35,91.96 20.21,91.51 21.25,91.18 22.29,90.88 23.15,90.49 23.72,89.93 23.95,89.18 23.91,88.23 23.71,87.17 23.53,86.09 23.54,85.12 23.85,84.35 24.48,83.82 25.40,83.52 26.48,83.35 27.55,83.21 28.47,82.96 29.12,82.51 29.47,81.80 29.57,80.85 29.54,79.77 29.53,78.68 29.69,77.73 30.11,77.01 30.83,76.59 31.78,76.43 32.87,76.44 33.95,76.47 34.90,76.37 35.61,76.02 36.06,75.37 36.31,74.45 36.45,73.38 36.62,72.30 36.92,71.38 37.45,70.75 38.22,70.44 39.19,70.43 40.27,70.61 41.33,70.81 42.28,70.85 43.03,70.62 43.59,70.05 43.97,69.19 44.28,68.15 44.61,67.11 45.06,66.25 45.68,65.70 46.49,65.52 47.45,65.67 48.48,66.01 49.50,66.37 50.43,66.57 51.21,66.45 51.85,65.98 52.37,65.19 52.83,64.21 53.32,63.23 53.90,62.45 54.60,62.01 55.42,61.96 56.35,62.25 57.31,62.75 58.26,63.27 59.15,63.61 59.94,63.62 60.64,63.25 61.28,62.54 61.89,61.65 62.53,60.77 63.22,60.09 63.98,59.76 64.80,59.84 65.67,60.27 66.55,60.92 67.41,61.57 68.23,62.05 69.01,62.18 69.76,61.92 70.50,61.33 71.24,60.55 72.01,59.77 72.80,59.21 73.60,59.00 74.40,59.21 75.19,59.77 75.96,60.55 76.70,61.33 77.44,61.92 78.19,62.18 78.97,62.05 79.79,61.57 80.65,60.92 81.53,60.27 82.40,59.84 83.22,59.76 83.98,60.09 84.67,60.77 85.31,61.65 85.92,62.54 86.56,63.25 87.26,63.62 88.05,63.61 88.94,63.27 89.89,62.75 90.85,62.25 91.78,61.96 92.60,62.01 93.30,62.45 93.88,63.23 94.37,64.21 94.83,65.19 95.35,65.98 95.99,66.45 96.77,66.57 97.70,66.37 98.72,66.01 99.75,65.67 100.71,65.52 101.52,65.70 102.14,66.25 102.59,67.11 102.92,68.15 103.22,69.19 103.61,70.05 104.17,70.62 104.92,70.85 105.87,70.81 106.93,70.61 108.01,70.43 108.98,70.44 109.75,70.75 110.28,71.38 110.58,72.30 110.75,73.38 110.89,74.45 111.14,75.37 111.59,76.02 112.30,76.37 113.25,76.47 114.33,76.44 115.42,76.43 116.37,76.59 117.09,77.01 117.51,77.73 117.67,78.68 117.66,79.77 117.63,80.85 117.73,81.80 118.08,82.51 118.73,82.96 119.65,83.21 120.72,83.35 121.80,83.52 122.72,83.82 123.35,84.35 123.66,85.12 123.67,86.09 123.49,87.17 123.29,88.23 123.25,89.18 123.48,89.93 124.05,90.49 124.91,90.88 125.95,91.18 126.99,91.51 127.85,91.96 128.40,92.58 128.58,93.39 128.43,94.35 128.09,95.38 127.73,96.40 127.53,97.33 127.65,98.11 128.12,98.75 128.91,99.27 129.89,99.73 130.87,100.22 131.65,100.80 132.09,101.50 132.14,102.32 131.85,103.25 131.35,104.21 130.83,105.16 130.49,106.05 130.48,106.84 130.85,107.54 131.56,108.18 132.45,108.79 133.33,109.43 134.01,110.12 134.34,110.88 134.26,111.70 133.83,112.57 133.18,113.45 132.53,114.31 132.05,115.13 131.92,115.91 132.18,116.66 132.77,117.40 133.55,118.14 134.33,118.91 134.89,119.70 135.10,120.50" fill="#fff" stroke="#3d4cab" stroke-width="1.5"/>
<circle cx="73.6" cy="120.5" r="54.5" fill="#3d4cab"/>
<circle cx="73.6" cy="120.5" r="37.2" fill="#fff"/>
<circle cx="73.6" cy="120.5" r="33.6" fill="none" stroke="#3d4cab" stroke-width="1.3" stroke-dasharray="3 2.3"/>
<path d="M54.099999999999994 101.7H93.1V132.1L73.6 144.8L54.099999999999994 132.1Z" fill="#3d4cab"/>
<path d="M54.099999999999994 101.7H93.1V113.0L90.0 113.8L73.6 105.4L57.2 113.8L54.099999999999994 113.0Z" fill="#8bc53f"/>
<polygon points="73.60,111.00 84.51,117.30 84.51,129.90 73.60,136.20 62.69,129.90 62.69,117.30" fill="#fff"/>
<polygon points="73.60,117.20 79.14,120.40 79.14,126.80 73.60,130.00 68.06,126.80 68.06,120.40" fill="#3d4cab"/>
<path d="M75.6 120.19999999999999L85.1 120.19999999999999L85.1 123.0L75.6 123.0Z" fill="#3d4cab"/>
<path d="M79.1 116.6L85.1 120.0L85.1 120.6L79.1 120.6Z" fill="#fff"/>
<rect x="73.1" y="122.8" width="9" height="3.6" fill="#fff"/>
<path d="M73.1 126.39999999999999L77.6 126.39999999999999L75.1 129.6Z" fill="#3d4cab"/>
<path id="b1t" d="M32.40 114.71A41.6 41.6 0 0 1 114.80 114.71" fill="none"/>
<text font-size="10.8" font-weight="bold" fill="#fff" stroke="#fff" stroke-width="0.25"><textPath href="#b1t" startOffset="0" textLength="119.1" lengthAdjust="spacingAndGlyphs">COMPLIANCE CHECKED</textPath></text>
<path id="b1b" d="M29.82 145.27A50.3 50.3 0 0 0 118.42 143.34" fill="none"/>
<text font-size="10.4" font-weight="bold" fill="#fff" stroke="#fff" stroke-width="0.15"><textPath href="#b1b" startOffset="0" textLength="108.4" lengthAdjust="spacing">INVESTOR-GUARD</textPath></text>
<circle cx="216.1" cy="121.2" r="52.3" fill="#3d4cab"/>
<circle cx="216.1" cy="121.2" r="36.2" fill="#fff"/>
<circle cx="216.1" cy="121.2" r="32.8" fill="none" stroke="#3d4cab" stroke-width="1.3" stroke-dasharray="3 2.3"/>
<path d="M197.3 103.3H234.7V133L216 145.2L197.3 133Z" fill="#3d4cab"/>
<path d="M197.3 103.3H234.7V114.0L231.7 114.8L216 106.7L200.3 114.8L197.3 114.0Z" fill="#8bc53f"/>
<polygon points="216.00,111.70 226.91,118.00 226.91,130.60 216.00,136.90 205.09,130.60 205.09,118.00" fill="#fff"/>
<polygon points="216.00,117.90 221.54,121.10 221.54,127.50 216.00,130.70 210.46,127.50 210.46,121.10" fill="#3d4cab"/>
<path d="M218 120.89999999999999L227.5 120.89999999999999L227.5 123.7L218 123.7Z" fill="#3d4cab"/>
<path d="M221.5 117.3L227.5 120.7L227.5 121.3L221.5 121.3Z" fill="#fff"/>
<rect x="215.5" y="123.5" width="9" height="3.6" fill="#fff"/>
<path d="M215.5 127.1L220 127.1L217.5 130.3Z" fill="#3d4cab"/>
<path id="b2t" d="M179.94 103.17A40.4 40.4 0 0 1 251.26 101.31" fill="none"/>
<text font-size="10.3" font-weight="bold" fill="#fff" stroke="#fff" stroke-width="0.25"><textPath href="#b2t" startOffset="0" textLength="87.4" lengthAdjust="spacingAndGlyphs">LINIEN &amp; KANÄLE</textPath></text>
<path id="b2b" d="M174.22 145.87A48.6 48.6 0 0 0 259.40 143.26" fill="none"/>
<text font-size="10" font-weight="bold" fill="#fff" stroke="#fff" stroke-width="0.15"><textPath href="#b2b" startOffset="0" textLength="103.9" lengthAdjust="spacing">INVESTOR-GUARD</textPath></text>
</svg>
</body></html>
